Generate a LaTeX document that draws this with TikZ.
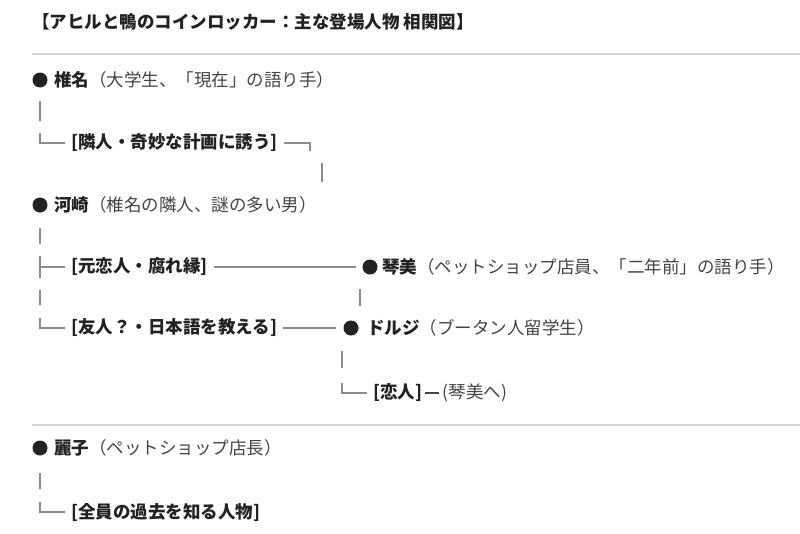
\documentclass[tikz,border=0pt]{standalone}
\usepackage{fontspec}
\setmainfont{Noto Sans CJK JP}
\usepackage{xcolor}
\usetikzlibrary{positioning}
\definecolor{ink}{HTML}{222222}
\definecolor{soft}{HTML}{444444}
\definecolor{wire}{HTML}{8C8C8C}
\definecolor{rulegray}{HTML}{D4D4D4}
\newcommand\bodyfont{\fontsize{17.5}{21}\selectfont}

\tikzset{
  txt/.style={inner sep=0pt, text=ink, font=\bodyfont},
  tag/.style={txt, font=\bodyfont\bfseries},
  blob/.style={circle, fill=ink, minimum size=15pt, inner sep=0pt},
  link/.style={draw=wire, line width=1.2pt},
  divider/.style={draw=rulegray, line width=1.6pt}
}

\begin{document}
\begin{tikzpicture}[x=1pt, y={(0pt,-1pt)}]
  \useasboundingbox (0,0) rectangle (800,533);
  \path (32,22)
    node (title) [right,tag] {【アヒルと鴨のコインロッカー：主な登場人物 相関図】}
    (40,80) node (shiinadot) [blob] {} ++(14,0)
    node (shiina) [right,txt] {{\bfseries 椎名}\textcolor{soft}{（大学生、「現在」の語り手）}}
    (71,143) node (invite) [right,tag] {[隣人・奇妙な計画に誘う]}
    (40,205) node (kawasakidot) [blob] {} ++(14,0)
    node (kawasaki) [right,txt] {{\bfseries 河崎}\textcolor{soft}{（椎名の隣人、謎の多い男）}}
    (71,267) node (exlover) [right,tag] {[元恋人・腐れ縁]}
    (370,267) node (kotomidot) [blob] {} ++(12,0)
    node (kotomi) [right,txt] {{\bfseries 琴美}\textcolor{soft}{（ペットショップ店員、「二年前」の語り手）}}
    (71,328) node (friend) [right,tag] {[友人？・日本語を教える]}
    (351,328) node (dorjidot) [blob] {} ++(16,0)
    node (dorji) [right,txt] {{\bfseries ドルジ}\textcolor{soft}{（ブータン人留学生）}}
    (373,393) node (lover) [right,tag] {[恋人]}
    (40,448) node (reikodot) [blob] {} ++(14,0)
    node (reiko) [right,txt] {{\bfseries 麗子}\textcolor{soft}{（ペットショップ店長）}}
    (71,512) node (allpast) [right,tag] {[全員の過去を知る人物]};
  \node (tokotomi) [right=20pt of lover,txt,text=soft] {(琴美へ)};

  \draw[divider] (32,54) -- (800,54);
  \draw[divider] (32,425) -- (800,425);

  \path (shiinadot.south) +(0,13) coordinate (shiinaa);
  \path (shiinadot.south) +(0,33) coordinate (shiinab);
  \draw[link] (shiinaa) -- (shiinab);
  \path (invite.west) +(-31,-10) coordinate (invitea);
  \path (invite.west) +(-6,0) coordinate (inviteb);
  \draw[link] (invitea) |- (inviteb);
  \path (invite.east) +(6,0) coordinate (invitec);
  \path (invite.east) +(32,8) coordinate (invited);
  \draw[link] (invitec) -| (invited);
  \path (invite.east) +(44,20) coordinate (invitee);
  \path (invite.east) +(44,39) coordinate (invitef);
  \draw[link] (invitee) -- (invitef);

  \path (kawasakidot.south) +(0,15) coordinate (kawasakia);
  \path (kawasakidot.south) +(0,31) coordinate (kawasakib);
  \draw[link] (kawasakia) -- (kawasakib);
  \path (exlover.west) +(-31,-11) coordinate (exlovera);
  \path (exlover.west) +(-31,11) coordinate (exloverb);
  \draw[link] (exlovera) -- (exloverb);
  \path (exlover.west) +(-31,0) coordinate (exloverc);
  \path (exlover.west) +(-6,0) coordinate (exloverd);
  \draw[link] (exloverc) -- (exloverd);
  \path (exlover.east) +(6,0) coordinate (exlovere);
  \path (kotomidot.west) +(-6,0) coordinate (exloverf);
  \draw[link] (exlovere) -- (exloverf);

  \path (exloverc) +(0,23) coordinate (tiea);
  \path (exloverc) +(0,38) coordinate (tieb);
  \draw[link] (tiea) -- (tieb);
  \path (kotomidot.south) +(-10,14) coordinate (kotomia);
  \path (kotomidot.south) +(-10,31) coordinate (kotomib);
  \draw[link] (kotomia) -- (kotomib);

  \path (friend.west) +(-31,-10) coordinate (frienda);
  \path (friend.west) +(-6,0) coordinate (friendb);
  \draw[link] (frienda) |- (friendb);
  \path (friend.east) +(6,0) coordinate (friendc);
  \path (dorjidot.west) +(-7,0) coordinate (friendd);
  \draw[link] (friendc) -- (friendd);

  \path (dorjidot.south) +(-9,15) coordinate (dorjia);
  \path (dorjidot.south) +(-9,32) coordinate (dorjib);
  \draw[link] (dorjia) -- (dorjib);
  \path (lover.west) +(-31,-10) coordinate (lovera);
  \path (lover.west) +(-6,0) coordinate (loverb);
  \draw[link] (lovera) |- (loverb);
  \path (lover.east) +(3,0) coordinate (loverc);
  \path (tokotomi.west) +(-3,0) coordinate (loverd);
  \draw[link,draw=soft] (loverc) -- (loverd);

  \path (reikodot.south) +(0,17) coordinate (reikoa);
  \path (reikodot.south) +(0,33) coordinate (reikob);
  \draw[link] (reikoa) -- (reikob);
  \path (allpast.west) +(-31,-10) coordinate (allpasta);
  \path (allpast.west) +(-6,0) coordinate (allpastb);
  \draw[link] (allpasta) |- (allpastb);
\end{tikzpicture}
\end{document}
